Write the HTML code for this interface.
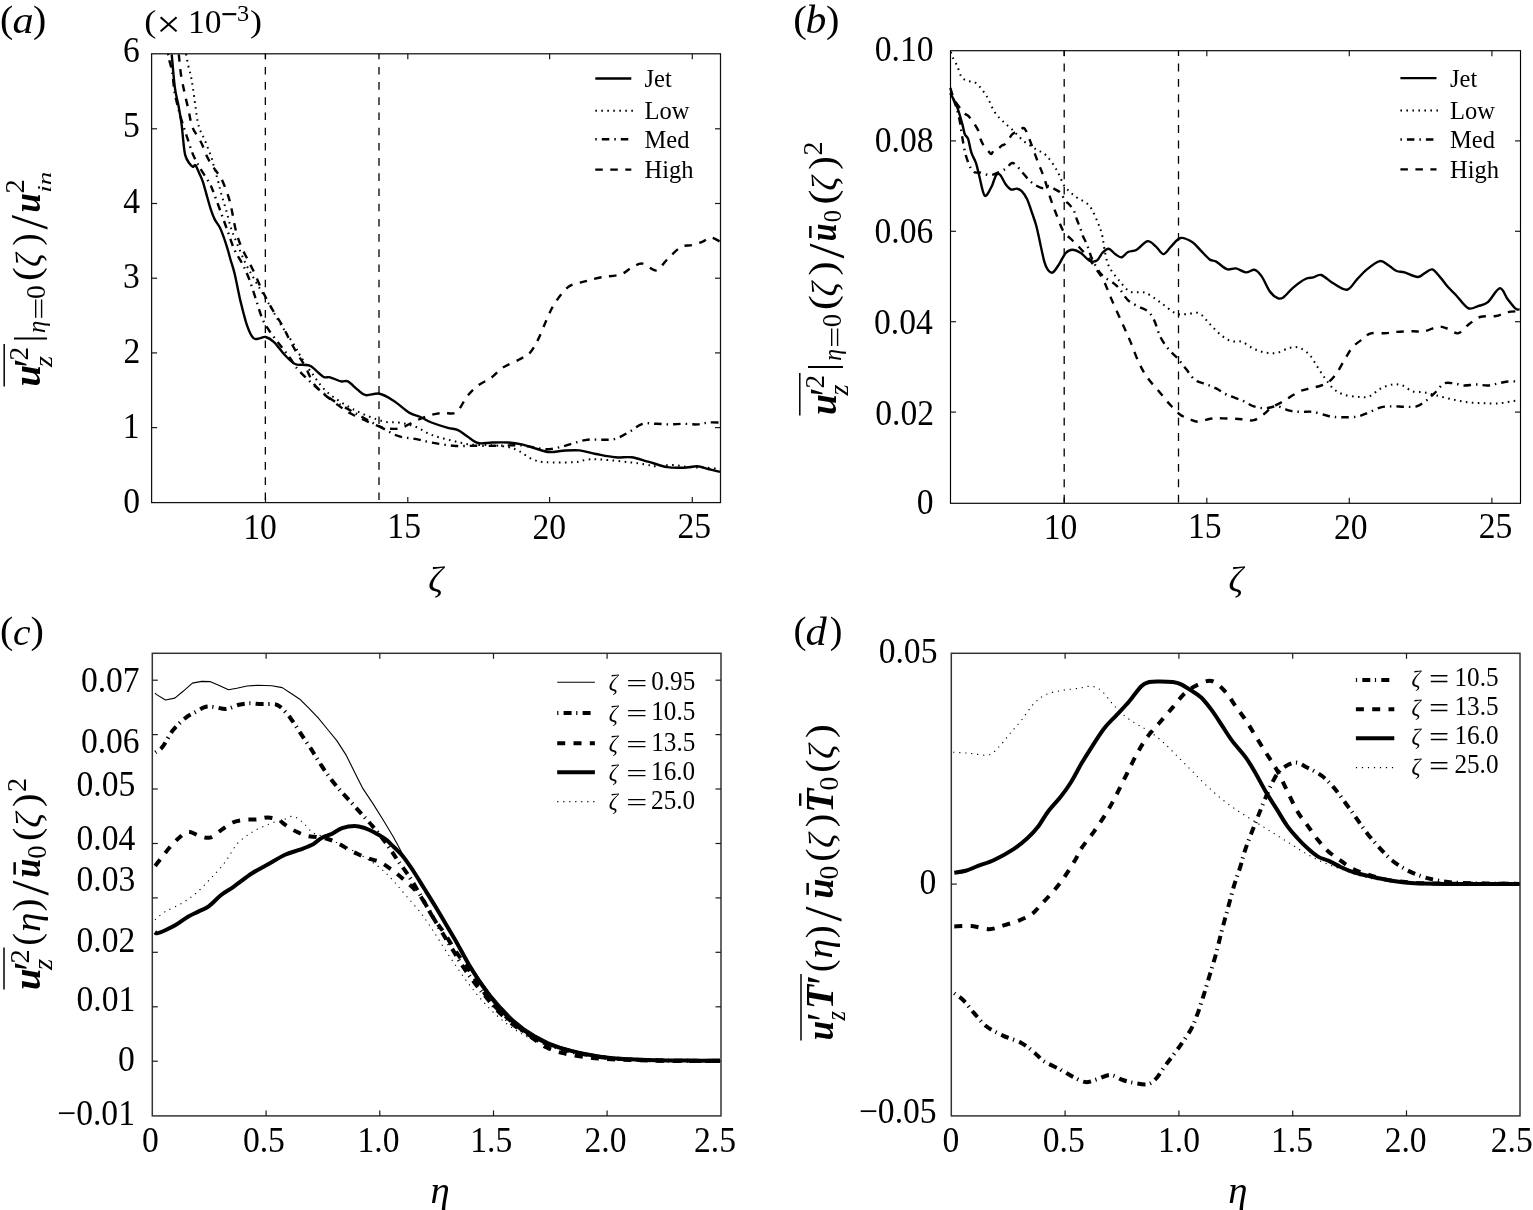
<!DOCTYPE html>
<html><head><meta charset="utf-8"><title>Figure</title>
<style>
html,body{margin:0;padding:0;background:#fff;width:1533px;height:1210px;overflow:hidden}
svg{display:block}
text{font-family:"Liberation Serif","DejaVu Serif",serif;fill:#000}
.i{font-style:italic}
.bi{font-style:italic;font-weight:bold}
</style></head><body>
<svg width="1533" height="1210" viewBox="0 0 1533 1210">
<rect width="1533" height="1210" fill="#fff"/>
<rect x="151.6" y="53.8" width="568.90" height="448.80" stroke="#111" stroke-width="1.25" fill="none"/>
<line x1="151.6" y1="427.6" x2="157.1" y2="427.6" stroke="#1a1a1a" stroke-width="1.2"/>
<line x1="720.5" y1="427.6" x2="715.0" y2="427.6" stroke="#1a1a1a" stroke-width="1.2"/>
<line x1="151.6" y1="352.9" x2="157.1" y2="352.9" stroke="#1a1a1a" stroke-width="1.2"/>
<line x1="720.5" y1="352.9" x2="715.0" y2="352.9" stroke="#1a1a1a" stroke-width="1.2"/>
<line x1="151.6" y1="278.2" x2="157.1" y2="278.2" stroke="#1a1a1a" stroke-width="1.2"/>
<line x1="720.5" y1="278.2" x2="715.0" y2="278.2" stroke="#1a1a1a" stroke-width="1.2"/>
<line x1="151.6" y1="203.5" x2="157.1" y2="203.5" stroke="#1a1a1a" stroke-width="1.2"/>
<line x1="720.5" y1="203.5" x2="715.0" y2="203.5" stroke="#1a1a1a" stroke-width="1.2"/>
<line x1="151.6" y1="128.8" x2="157.1" y2="128.8" stroke="#1a1a1a" stroke-width="1.2"/>
<line x1="720.5" y1="128.8" x2="715.0" y2="128.8" stroke="#1a1a1a" stroke-width="1.2"/>
<line x1="265.5" y1="502.6" x2="265.5" y2="497.1" stroke="#1a1a1a" stroke-width="1.2"/>
<line x1="265.5" y1="53.8" x2="265.5" y2="59.3" stroke="#1a1a1a" stroke-width="1.2"/>
<line x1="407.8" y1="502.6" x2="407.8" y2="497.1" stroke="#1a1a1a" stroke-width="1.2"/>
<line x1="407.8" y1="53.8" x2="407.8" y2="59.3" stroke="#1a1a1a" stroke-width="1.2"/>
<line x1="549.6" y1="502.6" x2="549.6" y2="497.1" stroke="#1a1a1a" stroke-width="1.2"/>
<line x1="549.6" y1="53.8" x2="549.6" y2="59.3" stroke="#1a1a1a" stroke-width="1.2"/>
<line x1="692.3" y1="502.6" x2="692.3" y2="497.1" stroke="#1a1a1a" stroke-width="1.2"/>
<line x1="692.3" y1="53.8" x2="692.3" y2="59.3" stroke="#1a1a1a" stroke-width="1.2"/>
<line x1="265.35" y1="53.8" x2="265.35" y2="502.6" stroke="#000" stroke-width="1.3" stroke-dasharray="7.6 7.6" stroke-dashoffset="2.1"/>
<line x1="379.0" y1="53.8" x2="379.0" y2="502.6" stroke="#000" stroke-width="1.3" stroke-dasharray="7.6 7.6" stroke-dashoffset="2.1"/>
<path d="M186.0,54.0C186.4,56.0 187.6,62.4 188.4,66.1C189.2,69.8 190.2,72.5 190.9,76.0C191.6,79.5 192.1,82.5 192.8,87.2C193.5,92.0 194.4,98.7 195.2,104.5C196.0,110.3 196.8,117.4 197.7,121.9C198.6,126.5 199.7,128.9 200.8,131.8C201.9,134.7 203.2,136.4 204.5,139.3C205.8,142.2 207.1,145.9 208.3,149.2C209.6,152.5 211.0,155.8 212.0,159.1C213.0,162.4 213.5,165.5 214.5,169.0C215.5,172.5 216.7,176.0 217.8,180.0C218.9,184.0 219.6,188.0 221.0,193.0C222.4,198.0 224.4,204.2 226.1,210.0C227.8,215.8 229.1,222.2 231.0,228.0C232.9,233.8 235.1,239.0 237.6,245.0C240.1,251.0 243.1,258.3 245.9,264.0C248.7,269.7 251.4,274.2 254.2,279.0C256.9,283.8 259.6,288.3 262.4,293.0C265.1,297.7 267.9,302.2 270.7,307.0C273.5,311.8 276.2,317.1 279.0,321.7C281.8,326.2 284.4,330.1 287.2,334.3C289.9,338.5 293.4,343.4 295.5,346.9C297.6,350.4 297.4,351.1 300.0,355.3C302.6,359.5 306.4,365.6 311.0,371.8C315.6,378.0 320.1,385.9 327.4,392.3C334.7,398.7 345.7,405.3 354.8,410.1C363.9,414.9 374.9,419.0 382.2,421.1C389.5,423.2 393.1,421.6 398.6,422.5C404.1,423.4 409.6,424.6 415.1,426.6C420.6,428.7 425.6,432.5 431.5,434.8C437.4,437.1 444.3,438.7 450.7,440.3C457.1,441.9 463.0,443.6 469.9,444.4C476.8,445.2 485.4,444.8 491.8,445.2C498.2,445.6 503.6,446.1 508.2,447.1C512.8,448.1 515.1,449.1 519.2,451.2C523.3,453.3 528.3,457.7 532.9,459.5C537.5,461.3 539.8,461.8 546.6,462.2C553.5,462.6 567.1,462.6 574.0,462.2C580.9,461.8 583.1,459.9 587.7,459.5C592.3,459.1 594.5,459.1 601.4,459.5C608.2,459.9 621.5,461.4 628.8,462.2C636.1,463.0 640.6,463.7 645.2,464.4C649.8,465.1 651.6,466.2 656.2,466.3C660.8,466.4 667.1,464.8 672.6,464.9C678.1,465.0 683.5,466.6 689.0,467.1C694.5,467.6 700.3,467.4 705.5,467.7C710.7,468.0 717.6,468.8 720.0,469.0" fill="none" stroke="#000" stroke-width="2.0" stroke-linecap="butt" stroke-linejoin="round" stroke-dasharray="1.6 4.4"/>
<path d="M168.0,54.0C168.2,55.0 168.5,56.9 169.2,59.9C169.9,62.9 171.5,67.3 172.3,72.3C173.1,77.3 173.5,84.7 174.2,89.7C174.9,94.7 175.7,97.9 176.7,102.1C177.7,106.3 178.8,110.7 180.0,115.0C181.2,119.3 182.7,123.8 184.0,128.0C185.3,132.2 186.7,136.0 188.0,140.0C189.3,144.0 190.7,148.5 192.0,152.0C193.3,155.5 194.7,158.3 196.0,161.0C197.3,163.7 198.5,165.5 200.0,168.0C201.5,170.5 203.3,173.3 205.0,176.0C206.7,178.7 208.7,181.5 210.0,184.0C211.3,186.5 211.2,186.2 213.0,191.0C214.8,195.8 218.7,206.3 221.1,213.0C223.5,219.7 225.5,225.1 227.7,231.2C229.9,237.3 231.8,243.9 234.3,249.4C236.8,254.9 240.1,259.4 242.6,264.3C245.1,269.2 247.0,273.3 249.2,279.1C251.4,284.9 253.6,292.4 255.8,299.0C258.0,305.6 260.2,313.6 262.4,318.8C264.6,324.0 266.1,325.9 269.0,330.3C271.9,334.7 276.5,340.4 280.0,345.0C283.5,349.6 286.7,353.5 290.0,358.0C293.3,362.5 293.8,365.4 300.0,371.8C306.2,378.2 318.3,389.5 327.4,396.4C336.5,403.2 345.7,407.6 354.8,412.9C363.9,418.1 374.9,424.0 382.2,427.9C389.5,431.8 393.1,434.4 398.6,436.2C404.1,438.0 409.6,437.8 415.1,438.9C420.6,439.9 425.1,441.4 431.5,442.5C437.9,443.6 446.1,445.2 453.4,445.8C460.7,446.4 468.0,445.8 475.3,445.8C482.6,445.8 490.0,445.9 497.3,445.8C504.6,445.7 513.3,445.0 519.2,445.2C525.1,445.4 528.3,446.4 532.9,447.1C537.5,447.8 542.0,449.3 546.6,449.3C551.2,449.3 555.7,448.2 560.3,447.1C564.9,446.1 569.4,444.2 574.0,443.0C578.6,441.8 583.1,440.2 587.7,439.7C592.3,439.1 596.8,439.8 601.4,439.7C606.0,439.6 610.5,440.2 615.1,438.9C619.7,437.6 624.2,434.6 628.8,432.1C633.4,429.6 637.9,425.2 642.5,423.8C647.1,422.4 651.6,423.7 656.2,423.8C660.8,423.9 665.3,424.4 669.9,424.4C674.5,424.4 679.0,423.8 683.6,423.8C688.2,423.8 693.2,424.6 697.3,424.4C701.4,424.2 704.4,422.8 708.2,422.5C712.0,422.2 718.0,422.5 720.0,422.5" fill="none" stroke="#000" stroke-width="2.4" stroke-linecap="butt" stroke-linejoin="round" stroke-dasharray="1.5 5 7.5 5"/>
<path d="M178.8,54.3C179.2,57.7 180.0,68.3 181.0,74.8C182.0,81.3 183.5,87.6 184.7,93.4C185.9,99.2 187.4,104.8 188.4,109.5C189.4,114.2 190.1,118.6 190.9,121.9C191.7,125.2 192.4,127.0 193.4,129.3C194.4,131.6 195.7,133.0 197.1,135.5C198.5,138.0 200.3,140.7 202.0,144.2C203.7,147.7 205.3,153.1 207.0,156.6C208.7,160.1 210.1,162.4 212.0,165.3C213.9,168.2 216.4,171.3 218.2,174.0C220.0,176.7 220.9,177.4 222.8,181.7C224.7,186.0 227.8,194.3 229.4,199.8C231.1,205.3 231.6,209.5 232.7,214.7C233.8,219.9 234.6,226.0 236.0,231.2C237.4,236.4 239.1,241.4 241.0,246.1C242.9,250.8 245.4,254.9 247.6,259.3C249.8,263.7 252.0,267.8 254.2,272.5C256.4,277.2 258.6,282.7 260.8,287.4C263.0,292.1 265.2,296.5 267.4,300.6C269.6,304.7 271.5,308.1 274.0,312.2C276.5,316.3 279.8,321.0 282.3,325.4C284.8,329.8 286.4,333.9 288.9,338.6C291.4,343.3 294.4,348.9 297.1,353.5C299.8,358.1 301.8,360.4 305.0,366.0C308.2,371.6 310.4,380.1 316.4,387.0C322.4,393.9 334.7,402.6 341.1,407.4C347.5,412.2 348.4,412.4 354.8,415.6C361.2,418.8 373.6,424.4 379.5,426.6C385.4,428.8 386.8,428.6 390.4,428.8C394.0,429.0 397.3,429.2 401.4,427.9C405.5,426.6 410.5,423.2 415.1,421.1C419.7,419.1 424.2,417.0 428.8,415.6C433.4,414.2 437.9,413.4 442.5,412.9C447.1,412.3 452.1,415.1 456.2,412.3C460.3,409.6 463.5,400.9 467.1,396.4C470.8,391.9 474.0,388.7 478.1,385.5C482.2,382.3 487.7,380.3 491.8,377.3C495.9,374.3 498.1,370.7 502.7,367.7C507.3,364.7 514.6,362.0 519.2,359.5C523.8,357.0 526.9,356.0 530.1,352.6C533.3,349.2 535.6,344.4 538.4,338.9C541.1,333.4 543.9,325.6 546.6,319.7C549.3,313.8 551.1,308.8 554.8,303.3C558.4,297.8 563.5,290.5 568.5,286.8C573.5,283.1 579.4,283.0 584.9,281.4C590.4,279.8 595.5,278.4 601.4,277.3C607.3,276.2 615.5,276.1 620.5,274.5C625.5,272.9 627.8,269.5 631.5,267.7C635.2,265.9 638.4,263.2 642.5,263.6C646.6,264.1 652.1,271.1 656.2,270.4C660.3,269.7 663.0,263.4 667.1,259.5C671.2,255.6 676.7,249.5 680.8,247.1C684.9,244.7 688.1,246.1 691.8,245.2C695.4,244.3 699.5,242.9 702.7,241.6C705.9,240.3 708.1,237.5 711.0,237.5C713.9,237.5 718.5,240.9 720.0,241.6" fill="none" stroke="#000" stroke-width="2.4" stroke-linecap="butt" stroke-linejoin="round" stroke-dasharray="7.5 7.5"/>
<path d="M171.7,54.3C172.2,59.8 173.7,78.6 174.8,87.2C175.9,95.8 177.4,99.6 178.5,105.8C179.6,112.0 180.8,118.2 181.6,124.4C182.4,130.6 182.9,137.8 183.5,143.0C184.1,148.2 184.4,152.1 185.3,155.4C186.2,158.7 187.6,160.9 188.9,162.8C190.2,164.7 191.8,166.4 192.9,166.8C194.0,167.2 194.3,164.1 195.4,165.3C196.5,166.5 198.4,171.3 199.6,174.0C200.8,176.7 201.6,178.1 202.8,181.7C204.0,185.3 205.5,191.0 206.8,195.6C208.1,200.2 209.5,205.4 210.8,209.4C212.1,213.4 213.2,216.4 214.7,219.4C216.2,222.4 218.2,224.3 219.7,227.3C221.2,230.3 222.4,233.6 223.7,237.2C225.0,240.8 226.4,245.3 227.6,249.1C228.8,252.9 229.4,255.8 230.6,260.0C231.8,264.1 233.0,266.9 234.7,274.0C236.4,281.1 238.8,294.3 240.9,302.9C243.0,311.5 245.0,319.8 247.1,325.6C249.2,331.5 251.2,335.9 253.3,338.0C255.4,340.1 257.4,338.6 259.5,338.4C261.6,338.2 263.3,336.4 265.7,337.0C268.1,337.6 270.9,339.2 274.0,342.1C277.1,345.0 280.9,350.9 284.3,354.5C287.7,358.1 291.5,362.1 294.6,363.8C297.7,365.5 300.2,364.5 302.9,364.9C305.6,365.3 307.6,364.3 311.0,366.3C314.4,368.3 320.1,374.9 323.3,376.7C326.5,378.5 327.1,376.5 330.1,377.3C333.1,378.1 338.1,380.7 341.1,381.4C344.1,382.1 345.2,380.0 347.9,381.4C350.6,382.8 354.5,387.3 357.5,389.6C360.5,391.9 362.1,394.4 365.8,395.1C369.5,395.8 374.9,392.8 379.5,393.7C384.1,394.6 388.2,397.3 393.2,400.5C398.2,403.7 405.1,410.1 409.6,412.9C414.2,415.6 416.9,415.4 420.5,417.0C424.1,418.6 426.9,420.7 431.5,422.5C436.1,424.3 443.6,426.7 447.9,427.9C452.2,429.1 454.3,428.5 457.5,429.9C460.7,431.3 463.7,434.0 467.1,436.2C470.5,438.4 474.0,441.9 478.1,443.0C482.2,444.1 486.8,442.6 491.8,442.5C496.8,442.4 503.2,442.2 508.2,442.5C513.2,442.8 517.3,443.4 521.9,444.4C526.5,445.4 531.0,447.2 535.6,448.5C540.2,449.8 544.7,451.7 549.3,452.1C553.9,452.5 558.0,451.0 563.0,450.7C568.0,450.4 574.0,449.8 579.5,450.4C585.0,450.9 590.0,452.9 595.9,454.0C601.8,455.1 609.2,456.8 615.1,457.3C621.0,457.9 626.0,456.6 631.5,457.3C637.0,458.0 642.1,460.0 648.0,461.6C653.9,463.2 661.2,466.1 667.1,467.1C673.0,468.1 678.6,467.8 683.6,467.7C688.6,467.6 693.2,466.1 697.3,466.3C701.4,466.5 704.4,468.1 708.2,469.0C712.0,469.9 718.0,471.3 720.0,471.8" fill="none" stroke="#000" stroke-width="2.4" stroke-linecap="butt" stroke-linejoin="round"/>
<line x1="595.3" y1="78.5" x2="631.3" y2="78.5" stroke="#000" stroke-width="2.4"/>
<text x="644.5" y="87.0" font-size="24.5">Jet</text>
<line x1="595.3" y1="110.7" x2="632.9" y2="110.7" stroke="#000" stroke-width="2.0" stroke-dasharray="1.6 4.4"/>
<text x="644.5" y="119.2" font-size="24.5">Low</text>
<line x1="595.3" y1="139.3" x2="631.3" y2="139.3" stroke="#000" stroke-width="2.4" stroke-dasharray="1.5 5 7.5 5"/>
<text x="644.5" y="147.8" font-size="24.5">Med</text>
<line x1="595.3" y1="169.6" x2="631.3" y2="169.6" stroke="#000" stroke-width="2.4" stroke-dasharray="7.5 7.5"/>
<text x="644.5" y="178.1" font-size="24.5">High</text>
<rect x="950.5" y="50.7" width="570.00" height="452.60" stroke="#000" stroke-width="1.15" fill="none"/>
<line x1="950.5" y1="412.1" x2="956.0" y2="412.1" stroke="#1a1a1a" stroke-width="1.2"/>
<line x1="1520.5" y1="412.1" x2="1515.0" y2="412.1" stroke="#1a1a1a" stroke-width="1.2"/>
<line x1="950.5" y1="321.7" x2="956.0" y2="321.7" stroke="#1a1a1a" stroke-width="1.2"/>
<line x1="1520.5" y1="321.7" x2="1515.0" y2="321.7" stroke="#1a1a1a" stroke-width="1.2"/>
<line x1="950.5" y1="231.3" x2="956.0" y2="231.3" stroke="#1a1a1a" stroke-width="1.2"/>
<line x1="1520.5" y1="231.3" x2="1515.0" y2="231.3" stroke="#1a1a1a" stroke-width="1.2"/>
<line x1="950.5" y1="140.9" x2="956.0" y2="140.9" stroke="#1a1a1a" stroke-width="1.2"/>
<line x1="1520.5" y1="140.9" x2="1515.0" y2="140.9" stroke="#1a1a1a" stroke-width="1.2"/>
<line x1="1064.2" y1="503.3" x2="1064.2" y2="497.8" stroke="#1a1a1a" stroke-width="1.2"/>
<line x1="1064.2" y1="50.7" x2="1064.2" y2="56.2" stroke="#1a1a1a" stroke-width="1.2"/>
<line x1="1206.8" y1="503.3" x2="1206.8" y2="497.8" stroke="#1a1a1a" stroke-width="1.2"/>
<line x1="1206.8" y1="50.7" x2="1206.8" y2="56.2" stroke="#1a1a1a" stroke-width="1.2"/>
<line x1="1349.3" y1="503.3" x2="1349.3" y2="497.8" stroke="#1a1a1a" stroke-width="1.2"/>
<line x1="1349.3" y1="50.7" x2="1349.3" y2="56.2" stroke="#1a1a1a" stroke-width="1.2"/>
<line x1="1491.9" y1="503.3" x2="1491.9" y2="497.8" stroke="#1a1a1a" stroke-width="1.2"/>
<line x1="1491.9" y1="50.7" x2="1491.9" y2="56.2" stroke="#1a1a1a" stroke-width="1.2"/>
<line x1="1064.2" y1="50.7" x2="1064.2" y2="503.3" stroke="#000" stroke-width="1.3" stroke-dasharray="7.9 7.5" stroke-dashoffset="2.6"/>
<line x1="1178.5" y1="50.7" x2="1178.5" y2="503.3" stroke="#000" stroke-width="1.3" stroke-dasharray="7.9 7.5" stroke-dashoffset="2.6"/>
<path d="M951.0,52.0C951.2,52.7 951.1,53.8 952.2,56.2C953.3,58.6 955.9,63.0 957.4,66.5C958.9,70.0 959.8,74.5 961.5,76.9C963.2,79.3 965.3,80.0 967.7,81.0C970.1,82.0 972.9,80.7 976.0,83.1C979.1,85.5 983.2,90.7 986.3,95.5C989.4,100.3 991.8,107.7 994.6,112.0C997.4,116.3 999.8,118.2 1002.9,121.3C1006.0,124.4 1009.8,127.3 1013.2,130.6C1016.6,133.9 1019.7,137.8 1023.5,140.9C1027.3,144.0 1032.1,146.8 1035.9,149.2C1039.7,151.6 1042.8,152.0 1046.2,155.4C1049.7,158.8 1053.5,164.6 1056.6,169.8C1059.7,175.0 1061.5,181.8 1064.8,186.4C1068.1,191.0 1072.4,194.0 1076.5,197.2C1080.6,200.4 1085.8,201.5 1089.4,205.8C1093.0,210.1 1095.8,218.0 1098.0,223.0C1100.2,228.0 1101.2,231.6 1102.3,235.9C1103.4,240.2 1103.3,243.7 1104.4,248.7C1105.5,253.7 1106.2,260.5 1108.7,265.9C1111.2,271.3 1115.9,276.7 1119.5,281.0C1123.1,285.3 1125.9,289.7 1130.2,291.7C1134.5,293.7 1140.3,291.0 1145.3,292.8C1150.3,294.6 1155.3,299.0 1160.3,302.4C1165.3,305.8 1171.0,311.2 1175.3,313.2C1179.6,315.2 1182.1,314.3 1186.1,314.3C1190.0,314.3 1195.1,311.6 1199.0,313.2C1202.9,314.8 1206.1,320.3 1209.7,323.9C1213.3,327.5 1216.9,331.8 1220.5,334.7C1224.1,337.6 1227.6,339.9 1231.2,341.1C1234.8,342.3 1238.1,340.5 1241.9,341.8C1245.7,343.1 1249.8,347.0 1253.8,348.8C1257.8,350.6 1261.7,352.1 1265.7,352.7C1269.7,353.3 1273.6,353.5 1277.6,352.7C1281.6,351.9 1285.9,348.6 1289.5,347.8C1293.1,347.0 1296.1,346.7 1299.4,347.8C1302.7,348.9 1306.4,351.6 1309.4,354.7C1312.4,357.8 1314.7,362.6 1317.3,366.6C1319.9,370.6 1322.5,374.9 1325.2,378.5C1327.9,382.1 1330.2,385.9 1333.2,388.5C1336.2,391.1 1339.1,393.0 1343.1,394.4C1347.1,395.8 1352.7,396.5 1357.0,396.8C1361.3,397.1 1364.9,397.8 1368.9,396.4C1372.9,395.0 1376.8,390.5 1380.8,388.5C1384.8,386.5 1389.1,385.0 1392.7,384.5C1396.3,384.0 1399.3,384.4 1402.6,385.5C1405.9,386.6 1408.9,390.2 1412.5,391.4C1416.1,392.5 1420.4,391.7 1424.4,392.4C1428.4,393.1 1431.7,394.2 1436.3,395.4C1440.9,396.6 1446.9,398.2 1452.2,399.4C1457.5,400.5 1462.7,401.6 1468.0,402.3C1473.3,403.0 1478.6,403.1 1483.9,403.3C1489.2,403.5 1495.2,403.6 1499.8,403.3C1504.4,403.0 1508.4,401.8 1511.7,401.3C1515.0,400.8 1518.3,400.5 1519.6,400.4" fill="none" stroke="#000" stroke-width="2.0" stroke-linecap="butt" stroke-linejoin="round" stroke-dasharray="1.6 4.4"/>
<path d="M950.8,93.4C951.6,95.4 954.1,100.7 955.6,105.1C957.1,109.5 958.4,114.4 959.5,119.7C960.6,125.0 961.1,130.7 962.2,136.9C963.3,143.1 964.4,151.0 966.2,156.7C968.0,162.4 970.4,168.5 972.8,171.2C975.2,173.8 977.8,171.9 980.7,172.6C983.6,173.3 987.1,175.2 990.0,175.2C992.9,175.2 995.3,173.7 997.9,172.6C1000.5,171.5 1003.5,170.2 1005.8,168.6C1008.1,167.0 1009.8,163.7 1011.5,163.1C1013.2,162.5 1014.2,163.5 1016.0,165.0C1017.8,166.5 1019.7,169.3 1022.0,172.0C1024.3,174.7 1027.5,178.7 1030.0,181.0C1032.5,183.3 1034.6,184.8 1037.0,186.0C1039.4,187.2 1042.2,188.4 1044.2,188.4C1046.2,188.4 1047.0,185.9 1048.7,186.0C1050.4,186.1 1052.6,187.9 1054.6,189.1C1056.6,190.2 1058.9,191.0 1060.6,192.9C1062.3,194.8 1063.5,198.3 1065.0,200.3C1066.5,202.3 1068.0,203.1 1069.5,204.8C1071.0,206.5 1072.7,208.2 1073.9,210.7C1075.1,213.2 1075.9,216.9 1076.9,219.6C1077.9,222.3 1078.9,224.4 1079.9,227.1C1080.9,229.8 1081.9,233.5 1082.9,236.0C1083.9,238.5 1084.8,239.7 1085.8,241.9C1086.8,244.1 1087.8,246.7 1088.8,249.4C1089.8,252.1 1090.1,254.6 1091.8,258.3C1093.5,262.0 1097.0,268.5 1099.2,271.7C1101.4,274.9 1102.7,275.6 1105.2,277.6C1107.7,279.6 1111.6,281.6 1114.1,283.6C1116.6,285.6 1117.7,286.7 1120.0,289.5C1122.3,292.3 1125.0,297.4 1128.1,300.3C1131.2,303.2 1135.6,304.9 1138.8,306.7C1142.0,308.5 1144.9,308.9 1147.4,311.0C1149.9,313.1 1151.8,315.3 1153.9,319.6C1156.1,323.9 1157.8,331.8 1160.3,336.8C1162.8,341.8 1166.0,346.1 1168.9,349.7C1171.8,353.3 1174.6,355.1 1177.5,358.3C1180.4,361.5 1183.2,365.4 1186.1,369.0C1189.0,372.6 1191.5,377.3 1194.7,379.8C1197.9,382.3 1201.8,382.7 1205.4,384.1C1209.0,385.5 1212.6,386.6 1216.2,388.4C1219.8,390.2 1222.6,392.8 1226.9,394.8C1231.2,396.8 1237.4,398.5 1241.9,400.4C1246.4,402.3 1249.8,405.0 1253.8,406.3C1257.8,407.6 1261.7,408.3 1265.7,408.3C1269.7,408.3 1273.6,405.9 1277.6,406.3C1281.6,406.7 1285.5,409.8 1289.5,410.7C1293.5,411.6 1297.4,411.7 1301.4,411.9C1305.4,412.1 1308.7,411.2 1313.3,411.9C1317.9,412.6 1324.6,415.3 1329.2,416.2C1333.8,417.1 1336.5,417.1 1341.1,417.2C1345.7,417.3 1352.4,417.4 1357.0,416.6C1361.6,415.8 1364.9,413.9 1368.9,412.3C1372.9,410.8 1376.8,408.3 1380.8,407.3C1384.8,406.3 1388.7,406.4 1392.7,406.3C1396.7,406.2 1400.6,406.7 1404.6,406.7C1408.6,406.7 1412.9,407.4 1416.5,406.3C1420.1,405.2 1423.4,402.5 1426.4,400.4C1429.4,398.2 1431.3,396.2 1434.3,393.4C1437.3,390.6 1440.9,385.1 1444.2,383.5C1447.5,381.9 1450.9,383.2 1454.2,383.5C1457.5,383.8 1460.5,385.3 1464.1,385.5C1467.7,385.7 1472.0,384.5 1476.0,384.5C1480.0,384.5 1484.3,385.7 1487.9,385.5C1491.5,385.3 1494.5,384.2 1497.8,383.5C1501.1,382.8 1504.1,381.8 1507.7,381.5C1511.3,381.2 1517.6,381.5 1519.6,381.5" fill="none" stroke="#000" stroke-width="2.4" stroke-linecap="butt" stroke-linejoin="round" stroke-dasharray="1.5 5 7.5 5"/>
<path d="M950.3,87.9C951.0,89.9 952.7,96.5 954.3,99.8C955.9,103.1 958.2,105.7 960.0,108.0C961.8,110.3 963.3,112.3 964.8,113.7C966.3,115.1 967.2,114.8 968.8,116.4C970.3,118.1 972.5,121.3 974.1,123.6C975.7,125.9 977.0,127.5 978.1,130.2C979.2,132.8 979.8,137.1 980.7,139.5C981.6,141.9 982.0,142.8 983.3,144.8C984.6,146.8 987.3,149.9 988.6,151.4C989.9,152.9 990.4,154.2 991.3,154.0C992.2,153.8 992.8,151.0 993.9,150.1C995.0,149.2 996.6,149.6 997.9,148.8C999.2,148.0 1000.6,146.4 1001.9,145.5C1003.2,144.6 1004.0,145.4 1005.8,143.5C1007.5,141.6 1010.2,136.3 1012.4,134.2C1014.6,132.1 1016.9,131.8 1019.0,130.9C1021.1,130.0 1022.7,126.2 1024.9,128.9C1027.1,131.6 1030.1,141.1 1032.3,146.8C1034.5,152.5 1036.3,157.9 1038.3,163.1C1040.3,168.3 1042.2,172.3 1044.2,178.0C1046.2,183.7 1048.1,191.4 1050.1,197.3C1052.1,203.2 1053.9,208.0 1056.1,213.7C1058.3,219.4 1061.0,227.3 1063.5,231.5C1066.0,235.7 1068.4,236.4 1071.0,239.0C1073.6,241.6 1076.0,243.8 1079.0,247.0C1082.0,250.2 1086.0,254.6 1088.8,258.3C1091.6,262.0 1093.5,265.3 1096.0,269.0C1098.5,272.7 1101.2,275.7 1103.7,280.6C1106.2,285.5 1108.1,291.5 1111.1,298.4C1114.1,305.3 1118.4,314.7 1121.6,321.8C1124.8,328.9 1127.3,334.3 1130.2,341.1C1133.1,347.9 1135.9,356.5 1138.8,362.6C1141.7,368.7 1144.2,373.0 1147.4,377.6C1150.6,382.2 1154.6,386.2 1158.2,390.5C1161.8,394.8 1165.3,399.4 1168.9,403.4C1172.5,407.3 1176.0,411.5 1179.6,414.2C1183.2,416.9 1187.2,418.2 1190.4,419.5C1193.6,420.8 1195.4,421.9 1199.0,421.7C1202.6,421.5 1207.2,419.0 1211.9,418.5C1216.6,418.0 1221.9,418.4 1226.9,418.5C1231.9,418.6 1237.4,418.9 1241.9,419.2C1246.4,419.5 1250.2,421.0 1253.8,420.2C1257.4,419.4 1260.7,416.3 1263.7,414.2C1266.7,412.1 1268.7,409.3 1271.7,407.3C1274.7,405.3 1278.6,404.0 1281.6,402.3C1284.6,400.6 1286.5,399.2 1289.5,397.4C1292.5,395.6 1296.1,392.9 1299.4,391.4C1302.7,389.9 1305.8,389.5 1309.4,388.5C1313.1,387.5 1318.0,386.7 1321.3,385.5C1324.6,384.3 1326.6,383.6 1329.2,381.5C1331.8,379.4 1334.4,376.4 1337.1,372.6C1339.8,368.8 1342.4,363.0 1345.1,358.7C1347.8,354.4 1350.0,350.1 1353.0,346.8C1356.0,343.5 1359.9,341.1 1362.9,338.9C1365.9,336.6 1367.2,334.2 1370.8,333.3C1374.4,332.4 1380.4,333.5 1384.7,333.3C1389.0,333.1 1392.0,332.2 1396.6,331.9C1401.2,331.6 1407.9,331.4 1412.5,331.3C1417.1,331.2 1420.1,332.1 1424.4,331.3C1428.7,330.5 1434.3,327.0 1438.3,326.6C1442.3,326.2 1444.9,327.8 1448.2,328.9C1451.5,330.0 1454.8,333.9 1458.1,333.3C1461.4,332.7 1464.3,327.7 1468.0,325.0C1471.7,322.3 1475.4,318.5 1480.0,317.0C1484.6,315.5 1491.2,316.8 1495.8,316.0C1500.4,315.2 1503.7,312.9 1507.7,312.1C1511.7,311.3 1517.6,311.3 1519.6,311.1" fill="none" stroke="#000" stroke-width="2.4" stroke-linecap="butt" stroke-linejoin="round" stroke-dasharray="7.5 7.5"/>
<path d="M950.3,93.2C951.4,95.4 954.9,101.3 956.9,106.4C958.9,111.5 960.9,119.0 962.2,123.6C963.5,128.2 963.8,131.7 964.8,134.2C965.8,136.7 967.0,135.7 968.1,138.8C969.2,141.9 970.1,148.6 971.4,152.7C972.7,156.8 974.8,159.3 976.1,163.3C977.4,167.3 978.0,171.1 979.4,176.5C980.8,181.9 982.7,193.9 984.7,195.7C986.7,197.5 989.8,189.6 991.3,187.1C992.8,184.6 993.0,182.6 993.9,180.5C994.8,178.4 995.5,175.4 996.6,174.5C997.7,173.6 999.0,173.5 1000.5,175.2C1002.0,176.9 1004.0,182.1 1005.8,184.5C1007.6,186.9 1009.2,188.8 1011.1,189.5C1013.0,190.2 1015.3,188.4 1017.1,188.7C1018.9,189.0 1020.1,189.4 1021.7,191.1C1023.4,192.8 1025.2,195.2 1027.0,199.0C1028.8,202.8 1030.8,209.2 1032.3,213.6C1033.8,218.0 1035.0,221.1 1036.2,225.5C1037.4,229.9 1038.2,234.0 1039.5,240.0C1040.8,246.0 1042.9,256.6 1044.3,261.6C1045.7,266.6 1046.6,268.2 1048.0,270.0C1049.4,271.8 1051.0,273.4 1052.9,272.4C1054.8,271.4 1057.2,267.0 1059.3,263.8C1061.4,260.6 1063.6,255.3 1065.8,253.0C1068.0,250.7 1069.7,249.8 1072.2,249.8C1074.7,249.8 1077.9,251.2 1080.8,253.0C1083.7,254.8 1086.7,259.3 1089.4,260.6C1092.1,261.9 1094.8,261.9 1096.9,260.6C1099.1,259.3 1100.3,255.0 1102.3,253.0C1104.3,251.0 1106.5,248.5 1108.7,248.7C1110.9,248.9 1113.1,252.7 1115.2,254.1C1117.3,255.5 1119.4,257.7 1121.6,257.3C1123.8,256.9 1125.6,253.2 1128.1,252.0C1130.6,250.8 1133.5,251.6 1136.7,249.8C1139.9,248.0 1144.2,241.7 1147.4,241.2C1150.6,240.7 1153.3,244.4 1156.0,246.6C1158.7,248.8 1161.0,254.1 1163.5,254.1C1166.0,254.1 1168.1,249.3 1171.0,246.6C1173.9,243.9 1177.1,238.7 1180.7,238.0C1184.3,237.3 1189.1,240.2 1192.5,242.3C1195.9,244.5 1198.2,248.0 1201.1,250.9C1204.0,253.8 1207.2,257.7 1209.7,259.5C1212.2,261.3 1213.3,260.0 1216.2,261.6C1219.1,263.2 1223.6,268.1 1226.9,269.2C1230.2,270.3 1232.8,267.9 1236.0,268.4C1239.2,268.9 1242.8,272.2 1245.9,272.4C1249.0,272.6 1252.2,269.1 1254.8,269.8C1257.4,270.5 1259.2,272.8 1261.7,276.4C1264.2,280.0 1267.1,287.7 1269.7,291.3C1272.3,294.9 1275.3,297.2 1277.6,298.2C1279.9,299.2 1280.9,299.0 1283.6,297.2C1286.2,295.4 1289.9,290.3 1293.5,287.3C1297.1,284.3 1302.1,280.6 1305.4,279.0C1308.7,277.4 1310.7,278.1 1313.3,277.4C1315.9,276.7 1318.0,274.0 1321.3,275.0C1324.6,276.0 1328.9,280.9 1333.2,283.3C1337.5,285.8 1343.0,290.4 1347.0,289.7C1351.0,289.0 1353.7,282.8 1357.0,279.4C1360.3,276.0 1363.1,272.4 1366.9,269.4C1370.7,266.3 1376.2,261.8 1379.8,261.1C1383.4,260.5 1385.9,263.9 1388.7,265.5C1391.5,267.1 1393.9,269.9 1396.6,271.0C1399.2,272.1 1401.1,271.4 1404.6,272.4C1408.1,273.4 1414.2,276.8 1417.5,277.0C1420.8,277.2 1421.9,274.7 1424.4,273.4C1426.9,272.1 1429.7,268.7 1432.3,269.4C1434.9,270.1 1437.6,274.4 1440.3,277.4C1443.0,280.4 1445.6,284.3 1448.2,287.3C1450.8,290.3 1452.8,291.7 1456.1,295.2C1459.4,298.7 1464.3,306.3 1468.0,308.1C1471.7,309.9 1474.7,307.1 1478.0,306.1C1481.3,305.1 1484.3,305.2 1487.9,302.2C1491.5,299.2 1496.5,288.8 1499.8,288.3C1503.1,287.8 1505.0,295.8 1507.7,299.2C1510.4,302.6 1513.7,307.0 1515.7,308.7C1517.7,310.4 1518.9,309.4 1519.6,309.5" fill="none" stroke="#000" stroke-width="2.4" stroke-linecap="butt" stroke-linejoin="round"/>
<line x1="1400.4" y1="78.1" x2="1436.5" y2="78.1" stroke="#000" stroke-width="2.4"/>
<text x="1450" y="86.6" font-size="24.5">Jet</text>
<line x1="1400.4" y1="110.5" x2="1438.1" y2="110.5" stroke="#000" stroke-width="2.0" stroke-dasharray="1.6 4.4"/>
<text x="1450" y="119.0" font-size="24.5">Low</text>
<line x1="1400.4" y1="139.5" x2="1436.5" y2="139.5" stroke="#000" stroke-width="2.4" stroke-dasharray="1.5 5 7.5 5"/>
<text x="1450" y="148.0" font-size="24.5">Med</text>
<line x1="1400.4" y1="169.4" x2="1436.5" y2="169.4" stroke="#000" stroke-width="2.4" stroke-dasharray="7.5 7.5"/>
<text x="1450" y="177.9" font-size="24.5">High</text>
<rect x="152.3" y="653.3" width="568.70" height="462.60" stroke="#333" stroke-width="1.5" fill="none"/>
<line x1="152.3" y1="1061.2" x2="157.8" y2="1061.2" stroke="#1a1a1a" stroke-width="1.2"/>
<line x1="721.0" y1="1061.2" x2="715.5" y2="1061.2" stroke="#1a1a1a" stroke-width="1.2"/>
<line x1="152.3" y1="1006.8" x2="157.8" y2="1006.8" stroke="#1a1a1a" stroke-width="1.2"/>
<line x1="721.0" y1="1006.8" x2="715.5" y2="1006.8" stroke="#1a1a1a" stroke-width="1.2"/>
<line x1="152.3" y1="952.3" x2="157.8" y2="952.3" stroke="#1a1a1a" stroke-width="1.2"/>
<line x1="721.0" y1="952.3" x2="715.5" y2="952.3" stroke="#1a1a1a" stroke-width="1.2"/>
<line x1="152.3" y1="897.9" x2="157.8" y2="897.9" stroke="#1a1a1a" stroke-width="1.2"/>
<line x1="721.0" y1="897.9" x2="715.5" y2="897.9" stroke="#1a1a1a" stroke-width="1.2"/>
<line x1="152.3" y1="843.5" x2="157.8" y2="843.5" stroke="#1a1a1a" stroke-width="1.2"/>
<line x1="721.0" y1="843.5" x2="715.5" y2="843.5" stroke="#1a1a1a" stroke-width="1.2"/>
<line x1="152.3" y1="789.0" x2="157.8" y2="789.0" stroke="#1a1a1a" stroke-width="1.2"/>
<line x1="721.0" y1="789.0" x2="715.5" y2="789.0" stroke="#1a1a1a" stroke-width="1.2"/>
<line x1="152.3" y1="734.6" x2="157.8" y2="734.6" stroke="#1a1a1a" stroke-width="1.2"/>
<line x1="721.0" y1="734.6" x2="715.5" y2="734.6" stroke="#1a1a1a" stroke-width="1.2"/>
<line x1="152.3" y1="680.2" x2="157.8" y2="680.2" stroke="#1a1a1a" stroke-width="1.2"/>
<line x1="721.0" y1="680.2" x2="715.5" y2="680.2" stroke="#1a1a1a" stroke-width="1.2"/>
<line x1="266.1" y1="1115.9" x2="266.1" y2="1110.4" stroke="#1a1a1a" stroke-width="1.2"/>
<line x1="266.1" y1="653.3" x2="266.1" y2="658.8" stroke="#1a1a1a" stroke-width="1.2"/>
<line x1="379.8" y1="1115.9" x2="379.8" y2="1110.4" stroke="#1a1a1a" stroke-width="1.2"/>
<line x1="379.8" y1="653.3" x2="379.8" y2="658.8" stroke="#1a1a1a" stroke-width="1.2"/>
<line x1="493.5" y1="1115.9" x2="493.5" y2="1110.4" stroke="#1a1a1a" stroke-width="1.2"/>
<line x1="493.5" y1="653.3" x2="493.5" y2="658.8" stroke="#1a1a1a" stroke-width="1.2"/>
<line x1="607.1" y1="1115.9" x2="607.1" y2="1110.4" stroke="#1a1a1a" stroke-width="1.2"/>
<line x1="607.1" y1="653.3" x2="607.1" y2="658.8" stroke="#1a1a1a" stroke-width="1.2"/>
<path d="M155.0,919.8C156.7,918.4 160.8,914.4 165.3,911.6C169.8,908.9 176.6,906.4 181.8,903.3C187.0,900.2 191.5,897.1 196.3,893.0C201.1,888.9 205.9,883.7 210.7,878.5C215.5,873.3 220.7,867.9 225.2,862.0C229.7,856.1 232.8,848.6 237.6,843.4C242.4,838.2 248.2,834.5 254.1,831.0C259.9,827.5 268.0,824.5 272.7,822.7C277.4,821.0 278.9,821.6 282.2,820.5C285.5,819.4 289.2,816.0 292.6,816.3C296.1,816.6 299.5,819.7 302.9,822.5C306.3,825.3 309.4,830.5 313.2,832.9C317.0,835.3 321.5,835.3 325.6,837.0C329.7,838.7 333.5,841.0 338.0,843.2C342.5,845.4 347.7,847.8 352.5,850.4C357.3,853.0 362.1,855.6 366.9,858.7C371.7,861.8 376.9,865.2 381.4,869.0C385.9,872.8 389.7,876.9 393.8,881.4C397.9,885.9 401.8,890.8 406.2,895.9C410.6,901.0 415.7,906.5 420.0,912.0C424.3,917.5 428.0,923.0 432.0,929.0C436.0,935.0 440.0,941.8 444.0,948.0C448.0,954.2 452.0,960.2 456.0,966.0C460.0,971.8 464.0,977.7 468.0,983.0C472.0,988.3 475.8,993.2 480.0,998.0C484.2,1002.8 488.5,1007.7 493.0,1012.0C497.5,1016.3 502.2,1020.3 507.0,1024.0C511.8,1027.7 516.8,1031.0 522.0,1034.0C527.2,1037.0 532.3,1039.7 538.0,1042.0C543.7,1044.3 549.3,1046.2 556.0,1048.0C562.7,1049.8 569.8,1051.5 578.0,1053.0C586.2,1054.5 594.7,1055.9 605.0,1057.0C615.3,1058.1 627.5,1058.9 640.0,1059.5C652.5,1060.1 666.7,1060.2 680.0,1060.5C693.3,1060.8 713.3,1060.9 720.0,1061.0" fill="none" stroke="#000" stroke-width="1.1" stroke-linecap="butt" stroke-linejoin="round" stroke-dasharray="1.2 4.8"/>
<path d="M155.0,693.0 L156.2,694.4 L165.5,700.0 L174.8,698.1 L183.1,691.3 L192.4,683.1 L201.7,681.4 L209.9,681.6 L219.2,685.5 L228.5,689.7 L236.8,688.2 L247.1,686.0 L257.4,685.3 L271.9,685.7 L282.2,687.6 L290.5,693.0 L299.8,699.2 L309.1,708.3 L318.4,718.2 L327.7,729.5 L337.0,740.9 L346.3,755.4 L354.5,771.9 L362.8,788.4 L373.1,803.9 L383.5,820.5 L392.8,836.0 L397.9,845.2 L402.0,853.0 L413.0,869.0 L424.4,887.5 L435.4,905.5 L446.5,924.5 L457.6,943.5 L468.7,962.5 L479.8,979.5 L490.9,994.5 L502.0,1007.5 L513.1,1019.0 L524.2,1028.0 L535.2,1035.0 L548.6,1042.0 L561.9,1047.0 L579.6,1052.0 L601.8,1056.0 L624.0,1058.5 L657.2,1060.0 L690.5,1060.5 L720.0,1060.6" fill="none" stroke="#000" stroke-width="1.1" stroke-linecap="butt" stroke-linejoin="round"/>
<path d="M155.5,752.5C156.7,751.6 159.5,750.8 162.4,747.1C165.3,743.5 168.9,735.4 172.7,730.6C176.5,725.8 181.3,721.3 185.1,718.2C188.9,715.1 192.1,713.9 195.5,712.0C198.9,710.1 202.4,707.6 205.8,706.8C209.2,706.0 212.7,707.0 216.1,707.4C219.5,707.8 222.6,709.3 226.4,708.9C230.2,708.5 235.0,705.7 238.8,704.8C242.6,703.9 245.4,703.4 249.2,703.3C253.0,703.2 257.5,704.0 261.6,704.1C265.7,704.2 270.9,703.7 274.0,704.1C277.1,704.5 277.4,704.4 280.2,706.8C282.9,709.1 287.1,713.7 290.5,718.2C293.9,722.7 297.4,728.5 300.8,733.7C304.2,738.9 307.8,743.9 311.2,749.2C314.6,754.5 318.1,760.5 321.5,765.7C324.9,770.9 328.4,775.7 331.8,780.2C335.2,784.7 338.7,788.7 342.1,792.6C345.6,796.5 349.1,800.1 352.5,803.9C355.9,807.7 359.5,811.7 362.8,815.3C366.1,818.9 369.0,822.0 372.1,825.6C375.2,829.2 378.5,833.2 381.4,837.0C384.3,840.8 386.9,844.3 389.7,848.3C392.4,852.2 394.8,856.2 397.9,860.7C401.0,865.2 404.9,870.0 408.3,875.2C411.8,880.4 415.0,885.9 418.6,892.0C422.2,898.1 426.4,905.8 430.0,912.0C433.6,918.2 436.5,923.2 440.0,929.0C443.5,934.8 447.3,941.0 451.0,947.0C454.7,953.0 458.2,959.2 462.0,965.0C465.8,970.8 470.0,976.7 474.0,982.0C478.0,987.3 482.0,992.2 486.0,997.0C490.0,1001.8 493.8,1006.7 498.0,1011.0C502.2,1015.3 506.7,1019.5 511.0,1023.0C515.3,1026.5 519.5,1029.2 524.0,1032.0C528.5,1034.8 533.3,1037.7 538.0,1040.0C542.7,1042.3 547.2,1044.2 552.0,1046.0C556.8,1047.8 561.5,1049.1 567.0,1050.5C572.5,1051.9 578.7,1053.3 585.0,1054.5C591.3,1055.7 597.5,1056.7 605.0,1057.5C612.5,1058.3 620.8,1059.0 630.0,1059.5C639.2,1060.0 645.0,1060.2 660.0,1060.5C675.0,1060.8 710.0,1060.9 720.0,1061.0" fill="none" stroke="#000" stroke-width="4.0" stroke-linecap="butt" stroke-linejoin="round" stroke-dasharray="1.2 5.2 8 4.6"/>
<path d="M155.2,865.9C156.4,864.4 159.8,859.9 162.4,856.6C165.0,853.3 167.9,849.4 170.7,846.3C173.4,843.2 176.0,840.4 178.9,838.0C181.8,835.6 184.8,832.1 188.2,831.8C191.6,831.5 196.0,835.0 199.6,836.0C203.2,837.0 206.5,838.5 209.9,837.6C213.3,836.7 216.4,833.3 220.2,830.8C224.0,828.3 228.5,824.3 232.6,822.5C236.7,820.7 240.9,820.3 245.0,819.8C249.1,819.3 253.6,819.8 257.4,819.4C261.2,819.0 264.4,817.3 267.8,817.4C271.2,817.5 275.0,818.4 278.1,819.8C281.2,821.2 283.3,823.6 286.4,825.6C289.5,827.6 293.3,830.1 296.7,831.8C300.1,833.5 303.6,835.1 307.0,836.0C310.4,836.9 313.9,836.5 317.4,837.0C320.8,837.5 324.3,838.0 327.7,839.0C331.1,840.0 334.6,841.5 338.0,843.2C341.4,844.9 344.9,847.5 348.3,849.4C351.8,851.3 355.2,853.0 358.7,854.5C362.1,856.0 365.4,857.4 369.0,858.7C372.6,860.0 375.9,860.1 380.0,862.1C384.1,864.1 388.9,867.7 393.3,871.0C397.7,874.3 402.2,878.0 406.6,882.1C411.0,886.2 415.5,889.5 419.9,895.4C424.3,901.3 429.1,911.3 433.2,917.6C437.3,923.9 440.6,927.6 444.3,933.1C448.0,938.6 451.7,945.2 455.4,950.8C459.1,956.3 462.4,960.5 466.5,966.4C470.6,972.3 475.7,980.4 479.8,986.3C483.9,992.2 486.8,997.1 490.9,1001.9C495.0,1006.7 499.8,1011.1 504.2,1015.2C508.6,1019.3 512.7,1022.4 517.5,1026.3C522.3,1030.2 528.2,1035.0 533.0,1038.5C537.8,1042.0 541.5,1044.9 546.3,1047.3C551.1,1049.7 556.3,1051.4 561.9,1052.9C567.5,1054.4 573.2,1055.3 579.6,1056.2C586.0,1057.1 591.6,1057.9 600.0,1058.5C608.4,1059.1 616.7,1059.6 630.0,1060.0C643.3,1060.4 665.0,1060.8 680.0,1061.0C695.0,1061.2 713.3,1061.0 720.0,1061.0" fill="none" stroke="#000" stroke-width="4.0" stroke-linecap="butt" stroke-linejoin="round" stroke-dasharray="8 8.3"/>
<path d="M155.0,932.0C155.3,932.2 155.3,933.6 157.0,933.3C158.7,933.0 162.2,931.6 165.3,930.2C168.4,928.8 171.8,927.2 175.6,925.0C179.4,922.8 184.2,918.9 188.0,916.7C191.8,914.5 194.9,913.3 198.3,911.6C201.8,909.9 204.9,909.2 208.7,906.4C212.5,903.6 217.0,898.3 221.1,895.0C225.2,891.7 228.3,890.4 233.5,886.8C238.7,883.2 246.2,877.1 252.1,873.3C257.9,869.5 263.1,867.1 268.6,864.0C274.1,860.9 279.9,857.2 285.1,854.8C290.3,852.4 295.3,851.4 300.0,849.6C304.7,847.8 309.6,846.1 313.2,844.2C316.8,842.3 318.4,839.7 321.5,838.0C324.6,836.3 328.4,835.5 331.8,833.9C335.2,832.2 338.3,829.4 342.1,828.1C345.9,826.8 350.7,826.0 354.5,826.0C358.3,826.0 361.4,827.0 364.9,828.1C368.3,829.2 371.8,831.1 375.2,832.9C378.6,834.7 382.9,837.1 385.5,839.0C388.1,840.9 388.3,841.6 391.1,844.4C393.9,847.1 398.5,851.1 402.2,855.5C405.9,859.9 409.6,865.5 413.3,871.0C417.0,876.5 420.7,882.9 424.4,888.8C428.1,894.7 431.7,900.4 435.4,906.5C439.1,912.6 442.8,919.0 446.5,925.3C450.2,931.6 453.9,937.7 457.6,944.2C461.3,950.7 465.0,957.9 468.7,964.2C472.4,970.5 476.1,976.4 479.8,981.9C483.5,987.4 487.2,992.6 490.9,997.4C494.6,1002.2 498.3,1006.6 502.0,1010.7C505.7,1014.8 509.4,1018.5 513.1,1021.8C516.8,1025.1 520.5,1028.1 524.2,1030.7C527.9,1033.3 531.1,1035.1 535.2,1037.3C539.3,1039.5 544.2,1042.2 548.6,1044.0C553.0,1045.8 556.7,1046.9 561.9,1048.4C567.1,1049.9 573.0,1051.5 579.6,1052.9C586.2,1054.3 594.4,1055.9 601.8,1056.9C609.2,1057.9 614.8,1058.5 624.0,1059.1C633.2,1059.6 646.1,1060.0 657.2,1060.2C668.3,1060.5 680.0,1060.5 690.5,1060.6C701.0,1060.7 715.1,1060.6 720.0,1060.6" fill="none" stroke="#000" stroke-width="4.0" stroke-linecap="butt" stroke-linejoin="round"/>
<line x1="557.2" y1="682.2" x2="594.9" y2="682.2" stroke="#000" stroke-width="1.1"/>
<text transform="translate(608.76,690.02) scale(1.0078,1.0078)" font-size="22.2"><tspan font-style="italic">ζ</tspan></text>
<text transform="translate(626.14,691.68) scale(1.2429,0.8133)" font-size="30">=</text>
<text transform="translate(651.21,689.63) scale(0.9550,0.9958)" font-size="26.4">0.95</text>
<line x1="557.2" y1="712.9" x2="592.5" y2="712.9" stroke="#000" stroke-width="4.0" stroke-dasharray="1.2 5.2 8 4.6"/>
<text transform="translate(608.76,720.72) scale(1.0078,1.0078)" font-size="22.2"><tspan font-style="italic">ζ</tspan></text>
<text transform="translate(626.14,722.38) scale(1.2429,0.8133)" font-size="30">=</text>
<text transform="translate(651.21,720.33) scale(0.9550,0.9958)" font-size="26.4">10.5</text>
<line x1="557.2" y1="743.2" x2="594.9" y2="743.2" stroke="#000" stroke-width="4.0" stroke-dasharray="8 8.3"/>
<text transform="translate(608.76,751.02) scale(1.0078,1.0078)" font-size="22.2"><tspan font-style="italic">ζ</tspan></text>
<text transform="translate(626.14,752.68) scale(1.2429,0.8133)" font-size="30">=</text>
<text transform="translate(651.21,750.63) scale(0.9550,0.9958)" font-size="26.4">13.5</text>
<line x1="557.2" y1="772.3" x2="594.9" y2="772.3" stroke="#000" stroke-width="4.0"/>
<text transform="translate(608.76,780.12) scale(1.0078,1.0078)" font-size="22.2"><tspan font-style="italic">ζ</tspan></text>
<text transform="translate(626.14,781.78) scale(1.2429,0.8133)" font-size="30">=</text>
<text transform="translate(651.09,779.73) scale(0.9550,0.9958)" font-size="26.4">16.0</text>
<line x1="557.2" y1="801.6" x2="594.5" y2="801.6" stroke="#000" stroke-width="1.1" stroke-dasharray="1.2 4.8"/>
<text transform="translate(608.76,809.42) scale(1.0078,1.0078)" font-size="22.2"><tspan font-style="italic">ζ</tspan></text>
<text transform="translate(626.14,811.08) scale(1.2429,0.8133)" font-size="30">=</text>
<text transform="translate(651.09,809.03) scale(0.9550,0.9958)" font-size="26.4">25.0</text>
<rect x="951.3" y="653.3" width="568.70" height="462.60" stroke="#333" stroke-width="1.5" fill="none"/>
<line x1="951.3" y1="884.1" x2="956.8" y2="884.1" stroke="#1a1a1a" stroke-width="1.2"/>
<line x1="1520.0" y1="884.1" x2="1514.5" y2="884.1" stroke="#1a1a1a" stroke-width="1.2"/>
<line x1="1065.1" y1="1115.9" x2="1065.1" y2="1110.4" stroke="#1a1a1a" stroke-width="1.2"/>
<line x1="1065.1" y1="653.3" x2="1065.1" y2="658.8" stroke="#1a1a1a" stroke-width="1.2"/>
<line x1="1178.9" y1="1115.9" x2="1178.9" y2="1110.4" stroke="#1a1a1a" stroke-width="1.2"/>
<line x1="1178.9" y1="653.3" x2="1178.9" y2="658.8" stroke="#1a1a1a" stroke-width="1.2"/>
<line x1="1292.7" y1="1115.9" x2="1292.7" y2="1110.4" stroke="#1a1a1a" stroke-width="1.2"/>
<line x1="1292.7" y1="653.3" x2="1292.7" y2="658.8" stroke="#1a1a1a" stroke-width="1.2"/>
<line x1="1406.5" y1="1115.9" x2="1406.5" y2="1110.4" stroke="#1a1a1a" stroke-width="1.2"/>
<line x1="1406.5" y1="653.3" x2="1406.5" y2="658.8" stroke="#1a1a1a" stroke-width="1.2"/>
<path d="M953.3,752.3C956.0,752.5 963.9,752.8 969.8,753.3C975.6,753.8 983.6,756.0 988.4,755.0C993.2,754.0 995.3,750.5 998.7,747.1C1002.1,743.7 1005.2,739.2 1009.0,734.7C1012.8,730.2 1017.3,725.4 1021.4,720.2C1025.5,715.0 1029.7,708.0 1033.8,703.7C1037.9,699.4 1041.4,696.6 1046.2,694.4C1051.0,692.2 1057.3,691.3 1062.8,690.3C1068.3,689.3 1074.5,688.9 1079.3,688.2C1084.1,687.5 1087.9,685.7 1091.7,686.2C1095.5,686.7 1098.5,688.4 1102.0,691.3C1105.5,694.2 1108.6,699.6 1112.4,703.7C1116.2,707.8 1120.7,712.7 1124.8,716.1C1128.9,719.5 1133.1,721.8 1137.2,724.4C1141.3,727.0 1145.0,728.5 1149.5,731.6C1154.0,734.7 1159.2,738.7 1164.0,743.0C1168.8,747.3 1173.7,752.6 1178.5,757.4C1183.3,762.2 1188.1,767.1 1192.9,771.9C1197.7,776.7 1202.2,781.6 1207.4,786.4C1212.6,791.2 1218.2,796.3 1223.9,800.8C1229.6,805.3 1235.8,809.4 1241.5,813.2C1247.2,817.0 1252.6,820.2 1258.1,823.6C1263.6,827.0 1269.1,830.5 1274.6,833.9C1280.1,837.3 1285.6,840.8 1291.1,844.2C1296.6,847.6 1302.1,851.4 1307.6,854.5C1313.1,857.6 1318.7,860.4 1324.2,862.8C1329.7,865.2 1334.5,866.8 1340.7,869.0C1346.9,871.2 1354.5,874.3 1361.4,876.2C1368.3,878.1 1373.7,879.3 1382.0,880.4C1390.3,881.5 1388.1,882.3 1411.0,882.9C1433.9,883.5 1501.3,883.7 1519.4,883.9" fill="none" stroke="#000" stroke-width="1.1" stroke-linecap="butt" stroke-linejoin="round" stroke-dasharray="1.2 4.8"/>
<path d="M954.3,993.3C955.8,994.5 960.3,997.2 963.6,1000.5C966.9,1003.8 970.1,1008.6 973.9,1012.9C977.7,1017.2 981.5,1022.5 986.3,1026.3C991.1,1030.1 997.0,1032.8 1002.9,1035.6C1008.8,1038.4 1016.2,1040.2 1021.4,1042.9C1026.5,1045.7 1030.0,1049.0 1033.8,1052.1C1037.6,1055.2 1039.7,1058.5 1044.2,1061.4C1048.7,1064.3 1055.9,1067.1 1060.7,1069.7C1065.5,1072.3 1069.0,1074.8 1073.1,1076.9C1077.2,1079.0 1081.4,1081.8 1085.5,1082.1C1089.6,1082.4 1093.8,1080.2 1097.9,1079.0C1102.0,1077.8 1106.2,1074.7 1110.3,1074.9C1114.4,1075.1 1118.6,1078.6 1122.7,1080.0C1126.8,1081.4 1131.0,1082.4 1135.1,1083.1C1139.2,1083.8 1144.1,1084.9 1147.5,1084.2C1150.9,1083.5 1152.6,1082.3 1155.7,1079.0C1158.8,1075.7 1162.3,1069.7 1166.1,1064.5C1169.9,1059.3 1174.4,1053.8 1178.5,1048.0C1182.6,1042.2 1187.8,1034.9 1190.9,1029.4C1194.0,1023.9 1195.0,1020.5 1197.1,1015.0C1199.2,1009.5 1201.2,1002.9 1203.3,996.4C1205.4,989.9 1207.4,982.6 1209.5,975.7C1211.6,968.8 1213.6,962.6 1215.7,955.0C1217.8,947.4 1219.8,938.1 1221.9,930.2C1224.0,922.3 1226.0,915.1 1228.1,907.5C1230.2,899.9 1232.2,891.7 1234.3,884.8C1236.4,877.9 1238.6,872.3 1240.5,866.2C1242.4,860.1 1243.1,855.8 1245.7,848.3C1248.3,840.8 1252.9,829.4 1256.0,821.5C1259.1,813.6 1261.5,807.3 1264.3,800.8C1267.0,794.2 1269.8,787.4 1272.5,782.2C1275.2,777.0 1277.0,773.1 1280.8,769.8C1284.6,766.5 1290.7,762.9 1295.2,762.6C1299.7,762.3 1303.1,765.6 1307.6,767.8C1312.1,770.0 1317.6,772.6 1322.1,776.0C1326.6,779.4 1330.4,783.6 1334.5,788.4C1338.6,793.2 1343.1,799.8 1346.9,805.0C1350.7,810.2 1353.8,814.6 1357.2,819.4C1360.7,824.2 1363.8,829.1 1367.6,833.9C1371.4,838.7 1375.9,843.8 1380.0,848.3C1384.1,852.8 1387.9,857.1 1392.4,860.7C1396.9,864.3 1402.0,867.4 1406.8,870.0C1411.6,872.6 1416.1,874.5 1421.3,876.2C1426.5,877.9 1430.9,879.2 1437.8,880.4C1444.7,881.5 1449.0,882.5 1462.6,883.1C1476.2,883.7 1509.9,883.8 1519.4,883.9" fill="none" stroke="#000" stroke-width="4.0" stroke-linecap="butt" stroke-linejoin="round" stroke-dasharray="1.2 5.2 8 4.6"/>
<path d="M954.3,926.5C957.2,926.4 966.0,925.6 971.9,926.1C977.8,926.6 984.2,929.3 989.4,929.2C994.6,929.1 997.9,927.2 1002.9,925.7C1007.9,924.2 1014.6,922.2 1019.4,920.3C1024.2,918.4 1028.0,916.9 1031.8,914.1C1035.6,911.3 1038.3,907.4 1042.1,903.4C1045.9,899.4 1050.7,894.5 1054.5,890.0C1058.3,885.5 1061.3,881.5 1064.8,876.5C1068.2,871.5 1072.4,864.7 1075.2,860.0C1078.0,855.3 1078.3,853.0 1081.4,848.3C1084.5,843.6 1089.7,837.6 1093.8,831.8C1097.9,825.9 1102.4,819.4 1106.2,813.2C1110.0,807.0 1113.1,801.1 1116.5,794.6C1119.9,788.1 1123.3,780.9 1126.8,774.0C1130.2,767.1 1133.8,759.5 1137.2,753.3C1140.7,747.1 1143.7,742.0 1147.5,736.8C1151.3,731.6 1155.8,727.1 1159.9,722.3C1164.0,717.5 1168.2,712.7 1172.3,707.9C1176.4,703.1 1180.6,697.2 1184.7,693.4C1188.8,689.6 1192.6,687.2 1197.1,685.1C1201.6,683.0 1206.8,680.0 1211.5,681.0C1216.2,682.0 1221.0,687.2 1225.0,691.3C1229.0,695.4 1231.8,701.0 1235.3,705.8C1238.8,710.6 1242.2,715.0 1245.7,720.2C1249.2,725.4 1252.6,731.3 1256.0,736.8C1259.4,742.3 1262.8,747.8 1266.3,753.3C1269.8,758.8 1273.2,763.6 1276.7,769.8C1280.2,776.0 1283.6,783.6 1287.0,790.5C1290.4,797.4 1293.9,805.4 1297.3,811.2C1300.7,817.1 1304.1,820.8 1307.6,825.6C1311.0,830.4 1314.5,835.8 1318.0,840.1C1321.5,844.4 1324.5,848.0 1328.3,851.4C1332.1,854.8 1336.6,857.8 1340.7,860.7C1344.8,863.6 1348.3,866.6 1353.1,869.0C1357.9,871.4 1363.4,873.3 1369.6,875.2C1375.8,877.1 1383.4,879.2 1390.3,880.4C1397.2,881.6 1404.1,881.9 1411.0,882.4C1417.9,882.9 1413.5,883.2 1431.6,883.5C1449.7,883.8 1504.8,883.8 1519.4,883.9" fill="none" stroke="#000" stroke-width="4.0" stroke-linecap="butt" stroke-linejoin="round" stroke-dasharray="8 8.3"/>
<path d="M954.3,872.7C956.2,872.4 961.7,871.8 965.7,870.7C969.7,869.6 973.3,867.7 978.1,865.9C982.9,864.1 988.8,862.5 994.6,859.7C1000.5,857.0 1007.7,853.0 1013.2,849.4C1018.7,845.8 1023.5,841.8 1027.6,838.0C1031.7,834.2 1034.5,831.2 1038.0,826.7C1041.5,822.2 1044.5,816.2 1048.3,811.2C1052.1,806.2 1056.9,801.5 1060.7,796.7C1064.5,791.9 1067.5,787.7 1071.0,782.2C1074.5,776.7 1078.0,769.5 1081.4,763.6C1084.9,757.8 1087.9,753.0 1091.7,747.1C1095.5,741.2 1100.0,733.8 1104.1,728.5C1108.2,723.2 1112.4,719.6 1116.5,715.1C1120.6,710.6 1124.8,706.5 1128.9,701.7C1133.0,696.9 1137.9,689.5 1141.3,686.2C1144.7,682.9 1146.4,682.8 1149.5,682.0C1152.6,681.2 1156.1,681.4 1159.9,681.4C1163.7,681.4 1168.9,681.5 1172.3,682.0C1175.7,682.5 1177.4,682.7 1180.5,684.1C1183.6,685.5 1187.5,688.1 1190.9,690.3C1194.4,692.5 1197.8,694.2 1201.2,697.5C1204.6,700.8 1208.0,705.2 1211.5,709.9C1215.0,714.5 1218.5,720.2 1221.9,725.4C1225.4,730.6 1228.2,735.6 1232.2,740.9C1236.2,746.2 1241.7,751.9 1245.7,757.4C1249.7,762.9 1252.6,768.1 1256.0,774.0C1259.4,779.9 1262.8,786.8 1266.3,792.6C1269.8,798.5 1273.2,803.6 1276.7,809.1C1280.2,814.6 1283.6,820.8 1287.0,825.6C1290.4,830.4 1293.9,834.2 1297.3,838.0C1300.7,841.8 1304.1,845.2 1307.6,848.3C1311.0,851.4 1314.5,854.5 1318.0,856.6C1321.5,858.7 1324.5,859.0 1328.3,860.7C1332.1,862.4 1336.6,865.1 1340.7,867.0C1344.8,868.9 1348.3,870.6 1353.1,872.1C1357.9,873.6 1363.4,874.8 1369.6,876.2C1375.8,877.6 1383.4,879.3 1390.3,880.4C1397.2,881.5 1400.7,882.3 1411.0,882.9C1421.3,883.5 1434.2,883.7 1452.3,883.9C1470.4,884.1 1508.2,884.1 1519.4,884.1" fill="none" stroke="#000" stroke-width="4.0" stroke-linecap="butt" stroke-linejoin="round"/>
<line x1="1355.9" y1="680" x2="1389.6" y2="680" stroke="#000" stroke-width="4.0" stroke-dasharray="1.2 5.2 8 4.6"/>
<text transform="translate(1411.56,686.12) scale(1.0078,1.0078)" font-size="22.2"><tspan font-style="italic">ζ</tspan></text>
<text transform="translate(1429.11,688.70) scale(1.1929,0.9600)" font-size="30">=</text>
<text transform="translate(1454.51,685.73) scale(0.9550,0.9958)" font-size="26.4">10.5</text>
<line x1="1355.9" y1="709.3" x2="1394.3" y2="709.3" stroke="#000" stroke-width="4.0" stroke-dasharray="8 8.3"/>
<text transform="translate(1411.56,715.42) scale(1.0078,1.0078)" font-size="22.2"><tspan font-style="italic">ζ</tspan></text>
<text transform="translate(1429.11,718.00) scale(1.1929,0.9600)" font-size="30">=</text>
<text transform="translate(1454.51,715.03) scale(0.9550,0.9958)" font-size="26.4">13.5</text>
<line x1="1355.9" y1="738.2" x2="1394.3" y2="738.2" stroke="#000" stroke-width="4.0"/>
<text transform="translate(1411.56,744.32) scale(1.0078,1.0078)" font-size="22.2"><tspan font-style="italic">ζ</tspan></text>
<text transform="translate(1429.11,746.90) scale(1.1929,0.9600)" font-size="30">=</text>
<text transform="translate(1454.39,743.93) scale(0.9550,0.9958)" font-size="26.4">16.0</text>
<line x1="1355.9" y1="767.6" x2="1393.5" y2="767.6" stroke="#000" stroke-width="1.1" stroke-dasharray="1.2 4.8"/>
<text transform="translate(1411.56,773.72) scale(1.0078,1.0078)" font-size="22.2"><tspan font-style="italic">ζ</tspan></text>
<text transform="translate(1429.11,776.30) scale(1.1929,0.9600)" font-size="30">=</text>
<text transform="translate(1454.39,773.33) scale(0.9550,0.9958)" font-size="26.4">25.0</text>
<text transform="translate(123.20,513.49) scale(0.96,1)" font-size="35">0</text>
<text transform="translate(122.72,438.44) scale(0.96,1)" font-size="35">1</text>
<text transform="translate(123.38,363.27) scale(0.96,1)" font-size="35">2</text>
<text transform="translate(123.08,287.92) scale(0.96,1)" font-size="35">3</text>
<text transform="translate(123.14,212.87) scale(0.96,1)" font-size="35">4</text>
<text transform="translate(122.90,137.45) scale(0.96,1)" font-size="35">5</text>
<text transform="translate(122.96,62.41) scale(0.96,1)" font-size="35">6</text>
<text transform="translate(243.31,538.54) scale(0.96,1)" font-size="35">10</text>
<text transform="translate(387.36,538.48) scale(0.96,1)" font-size="35">15</text>
<text transform="translate(532.44,538.54) scale(0.96,1)" font-size="35">20</text>
<text transform="translate(677.44,538.48) scale(0.96,1)" font-size="35">25</text>
<text transform="translate(874.82,61.48) scale(0.96,1)" font-size="35">0.10</text>
<text transform="translate(874.82,152.18) scale(0.96,1)" font-size="35">0.08</text>
<text transform="translate(874.46,243.07) scale(0.96,1)" font-size="35">0.06</text>
<text transform="translate(873.98,334.07) scale(0.96,1)" font-size="35">0.04</text>
<text transform="translate(875.30,424.98) scale(0.96,1)" font-size="35">0.02</text>
<text transform="translate(916.82,513.74) scale(0.96,1)" font-size="35">0</text>
<text transform="translate(1043.66,538.54) scale(0.96,1)" font-size="35">10</text>
<text transform="translate(1187.96,538.48) scale(0.96,1)" font-size="35">15</text>
<text transform="translate(1333.94,538.54) scale(0.96,1)" font-size="35">20</text>
<text transform="translate(1478.74,538.48) scale(0.96,1)" font-size="35">25</text>
<text transform="translate(80.88,691.88) scale(0.96,1)" font-size="35">0.07</text>
<text transform="translate(80.88,753.38) scale(0.96,1)" font-size="35">0.06</text>
<text transform="translate(76.48,796.27) scale(0.96,1)" font-size="35">0.05</text>
<text transform="translate(76.48,849.77) scale(0.96,1)" font-size="35">0.04</text>
<text transform="translate(76.48,891.27) scale(0.96,1)" font-size="35">0.03</text>
<text transform="translate(76.48,951.58) scale(0.96,1)" font-size="35">0.02</text>
<text transform="translate(76.48,1011.08) scale(0.96,1)" font-size="35">0.01</text>
<text transform="translate(118.08,1070.64) scale(0.96,1)" font-size="35">0</text>
<text transform="translate(57.22,1125.17) scale(0.96,1)" font-size="35">−0.01</text>
<text transform="translate(141.90,1152.44) scale(0.96,1)" font-size="35">0</text>
<text transform="translate(242.90,1152.38) scale(0.96,1)" font-size="35">0.5</text>
<text transform="translate(357.46,1152.38) scale(0.96,1)" font-size="35">1.0</text>
<text transform="translate(470.26,1152.31) scale(0.96,1)" font-size="35">1.5</text>
<text transform="translate(584.44,1152.38) scale(0.96,1)" font-size="35">2.0</text>
<text transform="translate(693.94,1152.31) scale(0.96,1)" font-size="35">2.5</text>
<text transform="translate(878.68,663.27) scale(0.96,1)" font-size="35">0.05</text>
<text transform="translate(919.58,893.74) scale(0.96,1)" font-size="35">0</text>
<text transform="translate(858.92,1122.58) scale(0.96,1)" font-size="35">−0.05</text>
<text transform="translate(942.60,1152.44) scale(0.96,1)" font-size="35">0</text>
<text transform="translate(1042.80,1152.38) scale(0.96,1)" font-size="35">0.5</text>
<text transform="translate(1157.96,1152.38) scale(0.96,1)" font-size="35">1.0</text>
<text transform="translate(1271.06,1152.31) scale(0.96,1)" font-size="35">1.5</text>
<text transform="translate(1384.64,1152.38) scale(0.96,1)" font-size="35">2.0</text>
<text transform="translate(1490.74,1152.31) scale(0.96,1)" font-size="35">2.5</text>
<text transform="translate(428.23,591.86) scale(0.9984,0.9984)" font-size="36.4"><tspan font-style="italic">ζ</tspan></text>
<text transform="translate(1228.61,591.82) scale(0.9890,0.9890)" font-size="36.4"><tspan font-style="italic">ζ</tspan></text>
<text x="430.6" y="1202.6" font-size="38.7" font-style="italic">η</text>
<text x="1228.3" y="1202.6" font-size="38.7" font-style="italic">η</text>
<text transform="translate(0.06,31.93) scale(1.0737,1.0119)" font-size="37">(</text>
<text transform="translate(12.51,33.31) scale(1.1438,1.0479)" font-size="37"><tspan font-style="italic">a</tspan></text>
<text transform="translate(32.98,31.93) scale(1.0805,1.0119)" font-size="37">)</text>
<text transform="translate(793.30,31.86) scale(1.1053,1.0209)" font-size="37">(</text>
<text transform="translate(805.55,33.30) scale(1.1250,1.0769)" font-size="37"><tspan font-style="italic">b</tspan></text>
<text transform="translate(825.97,31.86) scale(1.0909,1.0209)" font-size="37">)</text>
<text transform="translate(0.06,643.01) scale(1.0737,1.0149)" font-size="37">(</text>
<text transform="translate(12.90,644.61) scale(1.0689,1.0310)" font-size="37"><tspan font-style="italic">c</tspan></text>
<text transform="translate(30.57,643.01) scale(1.0909,1.0149)" font-size="37">)</text>
<text transform="translate(793.39,642.96) scale(1.0526,1.0209)" font-size="37">(</text>
<text transform="translate(805.61,644.59) scale(1.1486,1.0846)" font-size="37"><tspan font-style="italic">d</tspan></text>
<text transform="translate(829.74,642.96) scale(1.0286,1.0209)" font-size="37">)</text>
<text transform="translate(144.33,31.50) scale(1.1394,0.9751)" font-size="32">(</text>
<text transform="translate(156.55,37.02) scale(1.3385,1.1692)" font-size="32">×</text>
<text transform="translate(188.02,32.70) scale(1.0464,1.0775)" font-size="32">10</text>
<text transform="translate(220.90,29.47) scale(1.2444,1.8400)" font-size="24">−</text>
<text transform="translate(236.89,20.54) scale(1.1068,1.0555)" font-size="22">3</text>
<text transform="translate(249.97,31.50) scale(1.1273,0.9751)" font-size="32">)</text>
<text transform="translate(39.70,386.50) rotate(-90) scale(1.0162,0.9944)" font-size="38"><tspan font-style="italic" font-weight="bold">u</tspan></text>
<text transform="translate(46.85,367.38) rotate(-90) scale(1.1111,1.2845)" font-size="38">′</text>
<text transform="translate(27.80,360.46) rotate(-90) scale(0.7148,0.7124)" font-size="38">2</text>
<text transform="translate(51.60,367.02) rotate(-90) scale(0.7453,0.6800)" font-size="38"><tspan font-style="italic">z</tspan></text>
<text transform="translate(38.69,342.57) rotate(-90) scale(1.0667,0.9588)" font-size="38">|</text>
<text transform="translate(45.32,332.89) rotate(-90) scale(0.6488,0.6500)" font-size="38"><tspan font-style="italic">η</tspan></text>
<text transform="translate(48.32,319.64) rotate(-90) scale(1.0366,0.7263)" font-size="38">=</text>
<text transform="translate(45.33,298.91) rotate(-90) scale(0.7323,0.7141)" font-size="38">0</text>
<text transform="translate(38.66,280.89) rotate(-90) scale(1.1038,0.9768)" font-size="38">(</text>
<text transform="translate(40.58,266.68) rotate(-90) scale(0.8615,0.9268)" font-size="38"><tspan font-style="italic">ζ</tspan></text>
<text transform="translate(38.66,245.83) rotate(-90) scale(0.9846,0.9768)" font-size="38">)</text>
<text transform="translate(47.09,229.60) rotate(-90) scale(1.3810,1.3675)" font-size="38">/</text>
<text transform="translate(40.19,212.46) rotate(-90) scale(0.9135,1.0222)" font-size="38"><tspan font-style="italic" font-weight="bold">u</tspan></text>
<text transform="translate(24.30,193.51) rotate(-90) scale(0.7475,0.6925)" font-size="38">2</text>
<text transform="translate(51.10,192.81) rotate(-90) scale(0.7107,0.4935)" font-size="38"><tspan font-style="italic">in</tspan></text>
<line x1="4.2" y1="386.6" x2="4.2" y2="344.0" stroke="#000" stroke-width="1.5"/>
<text transform="translate(835.70,414.97) rotate(-90) scale(0.9946,0.9944)" font-size="38"><tspan font-style="italic" font-weight="bold">u</tspan></text>
<text transform="translate(842.85,396.24) rotate(-90) scale(1.0889,1.2845)" font-size="38">′</text>
<text transform="translate(823.80,388.46) rotate(-90) scale(0.7148,0.7124)" font-size="38">2</text>
<text transform="translate(847.60,395.42) rotate(-90) scale(0.7453,0.7371)" font-size="38"><tspan font-style="italic">z</tspan></text>
<text transform="translate(834.57,371.07) rotate(-90) scale(1.0667,0.9733)" font-size="38">|</text>
<text transform="translate(841.16,360.86) rotate(-90) scale(0.6236,0.6692)" font-size="38"><tspan font-style="italic">η</tspan></text>
<text transform="translate(844.32,347.98) rotate(-90) scale(1.0028,0.7263)" font-size="38">=</text>
<text transform="translate(841.33,327.26) rotate(-90) scale(0.7015,0.7141)" font-size="38">0</text>
<text transform="translate(835.13,310.36) rotate(-90) scale(1.2051,1.0058)" font-size="38">(</text>
<text transform="translate(836.62,296.14) rotate(-90) scale(0.9108,0.9358)" font-size="38"><tspan font-style="italic">ζ</tspan></text>
<text transform="translate(834.71,275.64) rotate(-90) scale(1.1487,0.9710)" font-size="38">)</text>
<text transform="translate(842.89,258.60) rotate(-90) scale(1.4190,1.3517)" font-size="38">/</text>
<text transform="translate(835.50,241.17) rotate(-90) scale(0.8486,0.9944)" font-size="38"><tspan font-style="italic" font-weight="bold">u</tspan></text>
<text transform="translate(840.95,222.18) rotate(-90) scale(0.6400,0.6712)" font-size="38">0</text>
<text transform="translate(834.71,204.66) rotate(-90) scale(1.2051,0.9710)" font-size="38">(</text>
<text transform="translate(836.62,190.44) rotate(-90) scale(0.9108,0.9208)" font-size="38"><tspan font-style="italic">ζ</tspan></text>
<text transform="translate(834.71,169.83) rotate(-90) scale(1.0667,0.9710)" font-size="38">)</text>
<text transform="translate(821.80,155.59) rotate(-90) scale(0.7344,0.7403)" font-size="38">2</text>
<line x1="799.8" y1="415.5" x2="799.8" y2="372.9" stroke="#000" stroke-width="1.5"/>
<rect x="809.1" y="226.0" width="2.5" height="12.0" fill="#000"/>
<text transform="translate(40.20,990.00) rotate(-90) scale(1.0162,0.9944)" font-size="38"><tspan font-style="italic" font-weight="bold">u</tspan></text>
<text transform="translate(46.85,971.09) rotate(-90) scale(1.2222,1.2845)" font-size="38">′</text>
<text transform="translate(28.80,963.51) rotate(-90) scale(0.7475,0.7323)" font-size="38">2</text>
<text transform="translate(52.10,970.02) rotate(-90) scale(0.7521,0.7371)" font-size="38"><tspan font-style="italic">z</tspan></text>
<text transform="translate(38.66,945.65) rotate(-90) scale(1.0127,0.9768)" font-size="38">(</text>
<text transform="translate(39.66,932.02) rotate(-90) scale(1.0331,0.9154)" font-size="38"><tspan font-style="italic">η</tspan></text>
<text transform="translate(38.66,911.47) rotate(-90) scale(1.0154,0.9768)" font-size="38">)</text>
<text transform="translate(47.58,895.40) rotate(-90) scale(1.4190,1.3872)" font-size="38">/</text>
<text transform="translate(40.20,877.85) rotate(-90) scale(0.9081,0.9944)" font-size="38"><tspan font-style="italic" font-weight="bold">u</tspan></text>
<text transform="translate(45.83,858.76) rotate(-90) scale(0.7015,0.7141)" font-size="38">0</text>
<text transform="translate(38.66,841.11) rotate(-90) scale(1.0532,0.9768)" font-size="38">(</text>
<text transform="translate(41.38,827.72) rotate(-90) scale(0.9723,0.9570)" font-size="38"><tspan font-style="italic">ζ</tspan></text>
<text transform="translate(38.66,807.03) rotate(-90) scale(1.0667,0.9768)" font-size="38">)</text>
<text transform="translate(25.80,792.01) rotate(-90) scale(0.7475,0.7323)" font-size="38">2</text>
<line x1="4.0" y1="989.6" x2="4.0" y2="947.4" stroke="#000" stroke-width="1.5"/>
<rect x="13.4" y="862.2" width="2.5" height="12.4" fill="#000"/>
<text transform="translate(833.19,1040.36) rotate(-90) scale(0.9135,1.0222)" font-size="38"><tspan font-style="italic" font-weight="bold">u</tspan></text>
<text transform="translate(839.85,1021.24) rotate(-90) scale(1.0889,1.2845)" font-size="38">′</text>
<text transform="translate(844.60,1020.46) rotate(-90) scale(0.6427,0.7371)" font-size="38"><tspan font-style="italic">z</tspan></text>
<text transform="translate(832.70,1009.18) rotate(-90) scale(1.0483,1.0372)" font-size="38"><tspan font-style="italic" font-weight="bold">T</tspan></text>
<text transform="translate(839.85,984.75) rotate(-90) scale(1.2000,1.2845)" font-size="38">′</text>
<text transform="translate(831.66,972.23) rotate(-90) scale(1.0025,0.9768)" font-size="38">(</text>
<text transform="translate(832.35,958.66) rotate(-90) scale(1.0583,0.9538)" font-size="38"><tspan font-style="italic">η</tspan></text>
<text transform="translate(831.66,938.17) rotate(-90) scale(1.0154,0.9768)" font-size="38">)</text>
<text transform="translate(840.58,921.60) rotate(-90) scale(1.4190,1.3872)" font-size="38">/</text>
<text transform="translate(832.70,898.59) rotate(-90) scale(0.9405,0.9944)" font-size="38"><tspan font-style="italic" font-weight="bold">u</tspan></text>
<text transform="translate(838.34,879.41) rotate(-90) scale(0.7323,0.6946)" font-size="38">0</text>
<text transform="translate(831.66,861.81) rotate(-90) scale(1.0532,0.9768)" font-size="38">(</text>
<text transform="translate(834.38,847.88) rotate(-90) scale(0.9477,0.9570)" font-size="38"><tspan font-style="italic">ζ</tspan></text>
<text transform="translate(831.66,827.23) rotate(-90) scale(1.0667,0.9768)" font-size="38">)</text>
<text transform="translate(833.20,812.63) rotate(-90) scale(1.0299,1.0573)" font-size="38"><tspan font-style="italic" font-weight="bold">T</tspan></text>
<text transform="translate(838.34,790.41) rotate(-90) scale(0.7323,0.6946)" font-size="38">0</text>
<text transform="translate(831.66,772.81) rotate(-90) scale(1.0532,0.9768)" font-size="38">(</text>
<text transform="translate(834.38,758.88) rotate(-90) scale(0.9477,0.9570)" font-size="38"><tspan font-style="italic">ζ</tspan></text>
<text transform="translate(831.66,738.30) rotate(-90) scale(1.1179,0.9768)" font-size="38">)</text>
<line x1="801.0" y1="1040.5" x2="801.0" y2="974.1" stroke="#000" stroke-width="1.5"/>
<rect x="806.4" y="882.9" width="2.5" height="11.9" fill="#000"/>
<rect x="799.0" y="793.4" width="2.4" height="12.4" fill="#000"/>
</svg>
</body></html>
